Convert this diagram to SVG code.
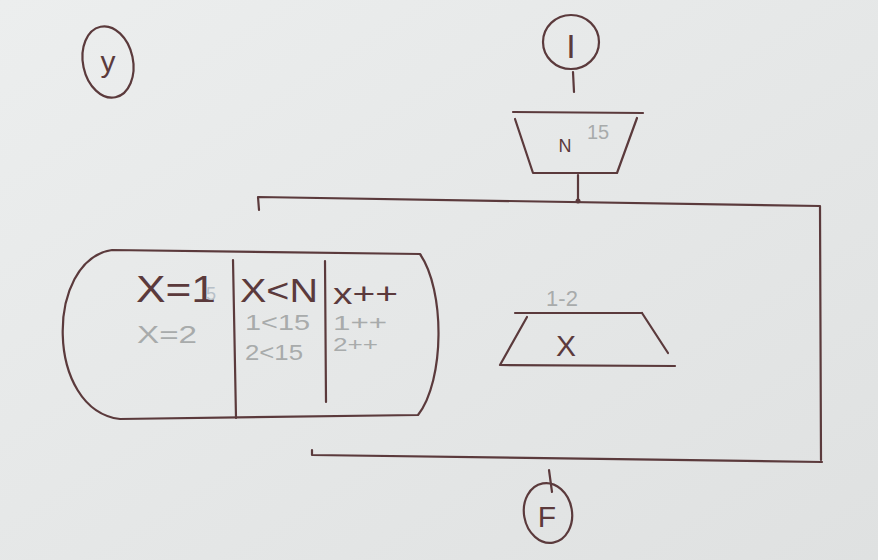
<svg xmlns="http://www.w3.org/2000/svg" width="878" height="560" viewBox="0 0 878 560">
<defs>
<linearGradient id="paper" x1="0" y1="0" x2="1" y2="1">
<stop offset="0" stop-color="#eceeee"/>
<stop offset="1" stop-color="#dfe1e1"/>
</linearGradient>
<style>
.ink{fill:none;stroke:#5b3a3c;stroke-width:2.2;stroke-linecap:round;stroke-linejoin:round}
.t{font-family:"Liberation Sans",Arial,sans-serif;fill:#5b3a3c}
.g{font-family:"Liberation Sans",Arial,sans-serif;fill:#a8abab}
</style>
</defs>
<rect width="878" height="560" fill="url(#paper)"/>

<g id="label-y">
<ellipse class="ink" cx="108" cy="62" rx="25" ry="36" transform="rotate(-12 108 62)"/>
<text class="t" x="108" y="72" font-size="30" text-anchor="middle">y</text>
</g>

<g id="start">
<ellipse class="ink" cx="571" cy="42" rx="28" ry="27"/>
<text class="t" x="571" y="58" font-size="34" text-anchor="middle">I</text>
</g>

<g id="input-N">
<line class="ink" x1="513" y1="112" x2="643" y2="113"/>
<polyline class="ink" points="515,119 533,173 617,173 637,118"/>
<text class="t" x="565" y="152" font-size="18" text-anchor="middle">N</text>
<text class="g" x="598" y="139" font-size="20" text-anchor="middle">15</text>
</g>

<g id="loop">
<path class="ink" d="M112,250 L420,254 C445,290 445,380 418,415 L120,419 C45,410 45,260 112,250 Z"/>
<line class="ink" x1="233" y1="260" x2="236" y2="418"/>
<line class="ink" x1="325" y1="261" x2="326" y2="402"/>
<text class="t" x="136" y="302" font-size="36" textLength="80" lengthAdjust="spacingAndGlyphs">X=1</text>
<text x="206" y="300" font-size="18" font-family="Liberation Sans,Arial,sans-serif" fill="#b7c0c8">5</text>
<text class="g" x="137" y="343" font-size="24" textLength="60" lengthAdjust="spacingAndGlyphs">X=2</text>
<text class="t" x="240" y="302" font-size="34" textLength="78" lengthAdjust="spacingAndGlyphs">X&lt;N</text>
<text class="t" x="333" y="304" font-size="30" textLength="65" lengthAdjust="spacingAndGlyphs">x++</text>
<text class="g" x="245" y="330" font-size="22" textLength="65" lengthAdjust="spacingAndGlyphs">1&lt;15</text>
<text class="g" x="245" y="360" font-size="22" textLength="58" lengthAdjust="spacingAndGlyphs">2&lt;15</text>
<text class="g" x="333" y="330" font-size="20" textLength="54" lengthAdjust="spacingAndGlyphs">1++</text>
<text class="g" x="333" y="351" font-size="18" textLength="45" lengthAdjust="spacingAndGlyphs">2++</text>
</g>

<g id="output-X">
<line class="ink" x1="515" y1="313" x2="642" y2="313"/>
<polyline class="ink" points="527,317 500,365 675,366"/>
<line class="ink" x1="642" y1="313" x2="668" y2="353"/>
<text class="t" x="566" y="356" font-size="30" text-anchor="middle">X</text>
<text class="g" x="562" y="306" font-size="22" text-anchor="middle">1-2</text>
</g>

<g id="end">
<ellipse class="ink" cx="548" cy="513" rx="24" ry="30" transform="rotate(-10 548 513)"/>
<text class="t" x="547" y="527" font-size="30" text-anchor="middle">F</text>
</g>

<g id="connectors">
<line class="ink" x1="573" y1="72" x2="574" y2="92"/>
<line class="ink" x1="578" y1="175" x2="578" y2="200"/>
<circle cx="578" cy="201" r="2.5" fill="#5b3a3c"/>
<polyline class="ink" points="259,210 258,197 820,206 821,460"/>
<polyline class="ink" points="312,450 312,455 822,462"/>
<line class="ink" x1="549" y1="470" x2="552" y2="492"/>
</g>
</svg>
